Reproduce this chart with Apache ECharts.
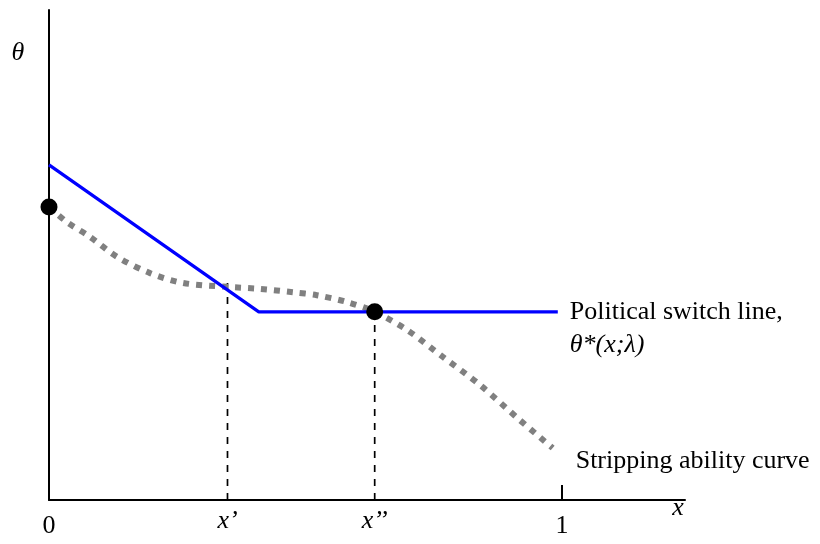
<!DOCTYPE html>
<html>
<head>
<meta charset="utf-8">
<script src="https://cdn.jsdelivr.net/npm/echarts@6/dist/echarts.min.js"></script>
<style>html,body{margin:0;padding:0;background:#fff;}#c{width:820px;height:544px;}</style>
</head>
<body>
<div id="c"></div>
<script>
// x in units of the axis (0..1 marked), y normalised 0..1
var tickValues = [0, 0.348, 0.635, 1];
var tickLabels = ['0', "x\u2019", "x\u2019\u2019", '1'];
var switchX = [0, 0.409, 0.992];
var switchY = [0.684, 0.384, 0.384];
var stripX = [0, 0.035, 0.080, 0.133, 0.197, 0.261, 0.347, 0.411, 0.476, 0.522, 0.581, 0.635, 0.698, 0.768, 0.840, 0.918, 0.982];
var stripY = [0.598, 0.567, 0.537, 0.496, 0.463, 0.443, 0.435, 0.431, 0.424, 0.418, 0.404, 0.384, 0.347, 0.292, 0.235, 0.163, 0.106];
var dotX = [0, 0.635];
var dotY = [0.598, 0.384];
var dropX = [0.348, 0.635];
var dropTopY = [0.443, 0.384];
var switchLabel = 'Political switch line,';
var switchLabel2 = '\u03b8*(x;\u03bb)';
var stripLabel = 'Stripping ability curve';

var serif = '"Liberation Serif", "DejaVu Serif", serif';
function pairs(xs, ys) { return xs.map(function (x, i) { return [x, ys[i]]; }); }

var series = [];
dropX.forEach(function (x, i) {
  series.push({
    type: 'line', data: [[x, 0], [x, dropTopY[i]]], symbol: 'none', silent: true, z: 1,
    lineStyle: { color: '#000', width: 1.7, type: [7, 7] }
  });
});
series.push({
  type: 'line', data: pairs(stripX, stripY), smooth: 0.3, symbol: 'none', z: 2,
  lineStyle: { color: '#808080', width: 6, type: [6, 7] },
  endLabel: { show: true, formatter: stripLabel, fontFamily: serif, fontSize: 26, color: '#000', distance: 23, offset: [0, 13] }
});
series.push({
  type: 'line', data: pairs(switchX, switchY), symbol: 'none', z: 3,
  lineStyle: { color: '#0000ff', width: 3.2 },
  endLabel: {
    show: true, distance: 12, verticalAlign: 'top', offset: [0, -16.5],
    formatter: '{a|' + switchLabel + '}\n{b|' + switchLabel2 + '}',
    rich: {
      a: { fontFamily: serif, fontSize: 26, color: '#000', lineHeight: 33 },
      b: { fontFamily: serif, fontSize: 26, fontStyle: 'italic', color: '#000', lineHeight: 33 }
    }
  }
});
series.push({
  type: 'scatter', data: pairs(dotX, dotY), symbolSize: 17, z: 5,
  itemStyle: { color: '#000', opacity: 1 }
});

var chart = echarts.init(document.getElementById('c'), null, { renderer: 'canvas' });
chart.setOption({
  animation: false,
  backgroundColor: '#fff',
  grid: { left: 49, top: 10, width: 636, height: 490, containLabel: false },
  xAxis: {
    type: 'value', min: 0, max: 1.24,
    splitLine: { show: false },
    axisLine: { show: true, onZero: false, lineStyle: { color: '#000', width: 2 } },
    axisTick: { show: true, inside: true, length: 15, customValues: [1], lineStyle: { color: '#000', width: 2 } },
    axisLabel: {
      show: true, margin: 13, customValues: tickValues,
      formatter: function (v) {
        var i = tickValues.indexOf(v);
        if (i < 0) return '';
        return (i === 1 || i === 2) ? '{it|' + tickLabels[i] + '}' : '{n|' + tickLabels[i] + '}';
      },
      rich: {
        n: { fontFamily: serif, fontSize: 26, color: '#000', lineHeight: 26 },
        it: { fontFamily: serif, fontSize: 26, fontStyle: 'italic', color: '#000', lineHeight: 16 }
      }
    },
    name: 'x', nameLocation: 'end', nameGap: -7,
    nameTextStyle: { fontFamily: serif, fontSize: 26, fontStyle: 'italic', color: '#000', align: 'center', verticalAlign: 'top', lineHeight: 17 }
  },
  yAxis: {
    type: 'value', min: 0, max: 1,
    splitLine: { show: false },
    axisLine: { show: true, onZero: false, lineStyle: { color: '#000', width: 2 } },
    axisTick: { show: false },
    axisLabel: { show: false },
    name: '\u03b8', nameLocation: 'end', nameGap: -43,
    nameTextStyle: { fontFamily: serif, fontSize: 26, fontStyle: 'italic', color: '#000', align: 'center', verticalAlign: 'middle', padding: [0, 62, 0, 0] }
  },
  series: series
});
</script>
</body>
</html>
